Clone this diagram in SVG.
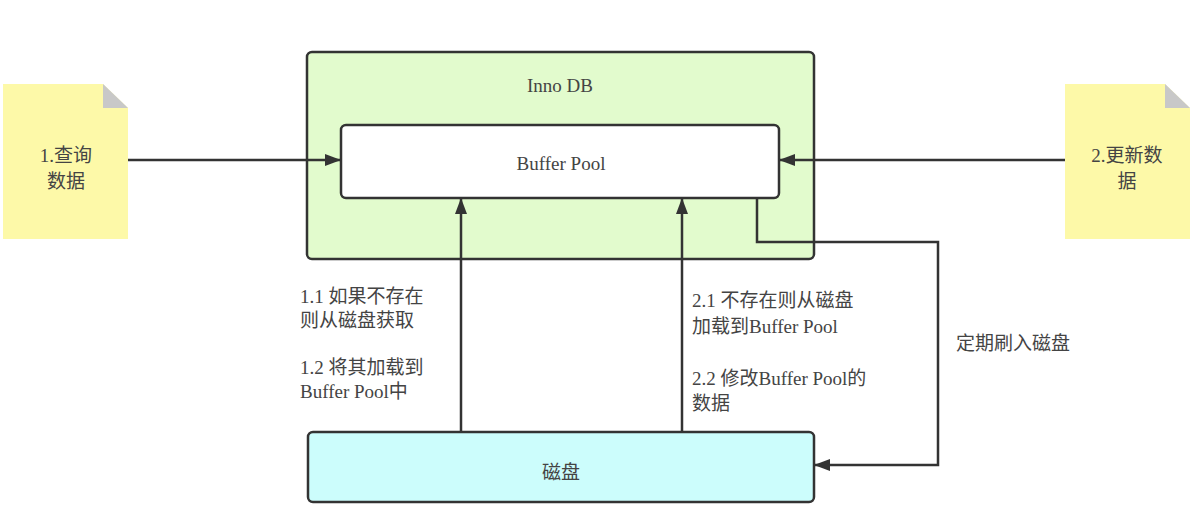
<svg xmlns="http://www.w3.org/2000/svg" width="1194" height="514" viewBox="0 0 1194 514">
<style>
text{font-family:"Liberation Serif","Noto Sans CJK SC",serif;fill:#444;font-size:19px}
.c{text-anchor:middle}
.box{stroke:#333;stroke-width:2.5}
.ln{fill:none;stroke:#333;stroke-width:2.5}
</style>
<defs>
<marker id="ah" viewBox="0 0 16 12" refX="16" refY="6" markerWidth="16" markerHeight="12" markerUnits="userSpaceOnUse" orient="auto">
<path d="M0,0 L16,6 L0,12 Z" fill="#333"/>
</marker>
</defs>
<rect width="1194" height="514" fill="#fff"/>
<g id="innodb">
<rect class="box" x="307" y="52" width="507" height="207" rx="5" fill="#e2fbcd"/>
<text class="c" x="560" y="92">Inno DB</text>
</g>
<g id="bufferpool">
<rect class="box" x="341" y="125" width="438" height="73" rx="5" fill="#fff"/>
<text class="c" x="561" y="170">Buffer Pool</text>
</g>
<g id="disk">
<rect class="box" x="308" y="432" width="506" height="70" rx="5" fill="#ccfdfc"/>
<text class="c" x="561" y="479">磁盘</text>
</g>
<g id="query">
<path d="M3,84 H103 L128,108 V239 H3 Z" fill="#fdf9a8"/>
<path d="M103,84 L128,108 H103 Z" fill="#c8c8c8"/>
<text class="c" x="66" y="162" font-size="20">1.查询</text>
<text class="c" x="66" y="188" font-size="20">数据</text>
</g>
<g id="update">
<path d="M1065,84 H1165 L1190,108 V239 H1065 Z" fill="#fdf9a8"/>
<path d="M1165,84 L1190,108 H1165 Z" fill="#c8c8c8"/>
<text class="c" x="1127" y="162" font-size="20">2.更新数</text>
<text class="c" x="1127" y="188" font-size="20">据</text>
</g>
<g id="connectors">
<line class="ln" x1="128" y1="160" x2="341" y2="160" marker-end="url(#ah)"/>
<line class="ln" x1="1065" y1="160" x2="779" y2="160" marker-end="url(#ah)"/>
<line class="ln" x1="461" y1="432" x2="461" y2="198" marker-end="url(#ah)"/>
<line class="ln" x1="682" y1="432" x2="682" y2="198" marker-end="url(#ah)"/>
<polyline class="ln" points="757,198 757,242 938,242 938,465 814,465" marker-end="url(#ah)"/>
</g>
<g id="labels">
<text x="300" y="303">1.1 如果不存在</text>
<text x="300" y="327">则从磁盘获取</text>
<text x="300" y="374">1.2 将其加载到</text>
<text x="300" y="398">Buffer Pool中</text>
<text x="692" y="307">2.1 不存在则从磁盘</text>
<text x="692" y="333">加载到Buffer Pool</text>
<text x="692" y="385">2.2 修改Buffer Pool的</text>
<text x="692" y="410">数据</text>
<text x="956" y="350">定期刷入磁盘</text>
</g>
</svg>
